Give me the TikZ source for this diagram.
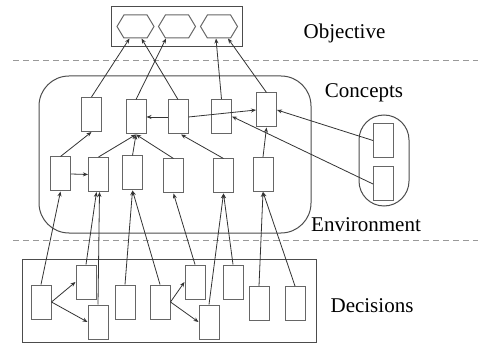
\documentclass[tikz,border=0pt]{standalone}
\usepackage{fontspec}
\setmainfont{Liberation Serif}
\usetikzlibrary{arrows.meta,shapes.symbols}

\begin{document}
\begin{tikzpicture}[x=1pt,y=-1pt,
    box/.style={draw=black!60,line width=1pt,rectangle,inner sep=0pt,minimum width=20pt,minimum height=34pt},
    hexa/.style={draw=black!60,line width=1pt,signal,signal to=west and east,signal pointer angle=118,inner sep=0pt,minimum width=37pt,minimum height=23pt},
    frame/.style={draw=black!70,line width=1pt},
    link/.style={draw=black!80,line width=0.8pt,-{Stealth[length=5pt,width=4pt]}},
    sep/.style={draw=black!40,line width=1pt,dash pattern=on 6pt off 4pt},
    lab/.style={anchor=base,font=\fontsize{21}{24}\selectfont}]
    \useasboundingbox (0,0) rectangle (478,344);

        \draw[frame] (111,7) rectangle (242,47);
        \node[hexa] (h1) at (135.5,26.5) {};
        \node[hexa] (h2) at (177,26.5) {};
        \node[hexa] (h3) at (219,26.5) {};
        \node[lab] (objective) at (344.5,38.5) {Objective};

        \draw[sep] (13,61) -- (478,61);
        \draw[sep] (13,240) -- (478,240);

        \draw[frame,rounded corners=30pt] (39,76) rectangle (311,233);
        \node[lab] (concepts) at (364,98) {Concepts};
        \node[lab] (environment) at (366,232) {Environment};

        \node[box] (c1) at (91.5,114.5) {};
        \node[box] (c2) at (136,117) {};
        \node[box] (c3) at (178,117) {};
        \node[box] (c4) at (221.5,116.5) {};
        \node[box] (c5) at (266.5,110) {};

        \node[box] (d1) at (60.5,174) {};
        \node[box] (d2) at (98.5,174.5) {};
        \node[box] (d3) at (132.5,173) {};
        \node[box] (d4) at (173.5,176) {};
        \node[box] (d5) at (223.5,176) {};
        \node[box] (d6) at (263,174.5) {};

        \draw[frame,rounded corners=25pt] (359,115) rectangle (409,206);
        \node[box] (e1) at (383.5,140.5) {};
        \node[box] (e2) at (383.5,184) {};

        \draw[frame] (22,259) rectangle (316,342);
        \node[lab] (decisions) at (372,312) {Decisions};
        \node[box] (x1) at (41,302) {};
        \node[box] (x2) at (86,282) {};
        \node[box] (x3) at (98,322) {};
        \node[box] (x4) at (125,302) {};
        \node[box] (x5) at (160,302) {};
        \node[box] (x6) at (195,282) {};
        \node[box] (x7) at (209,322) {};
        \node[box] (x8) at (233,282) {};
        \node[box] (x9) at (259,303.5) {};
        \node[box] (x10) at (295,303.5) {};

        \draw[link] (c1.north) -- ([xshift=-6pt]h1.south);
        \draw[link] (c3.north) -- ([xshift=6pt]h1.south);
        \draw[link] (c2.north) -- ([xshift=-11pt]h2.south);
        \draw[link] (c4.north) -- ([xshift=-3pt]h3.south);
        \draw[link] (c5.north) -- ([xshift=9pt]h3.south);

        \draw[link] (c3.west) -- (c2.east);
        \draw[link] (c3.east) -- (c5.west);
        \draw[link] (e1.west) -- (c5.east);
        \draw[link] (e2.west) -- (c4.east);

        \draw[link] (d1.north) -- (c1.south);
        \draw[link] (d1.east) -- (d2.west);
        \draw[link] (d2.north) -- (c2.south);
        \draw[link] (d3.north) -- (c2.south);
        \draw[link] (d4.north) -- (c2.south);
        \draw[link] (d5.north) -- ([xshift=3pt]c3.south);
        \draw[link] (d6.north) -- (c5.south);

        \draw[link] (x1.north) -- (d1.south);
        \draw[link] (x2.north) -- ([xshift=-2pt]d2.south);
        \draw[link] (x3.north) -- ([xshift=1pt]d2.south);
        \draw[link] (x4.north) -- (d3.south);
        \draw[link] (x5.north) -- (d3.south);
        \draw[link] (x6.north) -- (d4.south);
        \draw[link] (x7.north) -- (d5.south);
        \draw[link] (x8.north) -- (d5.south);
        \draw[link] (x9.north) -- (d6.south);
        \draw[link] (x10.north) -- (d6.south);

        \draw[link] (x1.east) -- (x2.west);
        \draw[link] (x1.east) -- (x3.west);
        \draw[link] (x5.east) -- (x6.west);
        \draw[link] (x5.east) -- (x7.west);
    \end{tikzpicture}
\end{document}
